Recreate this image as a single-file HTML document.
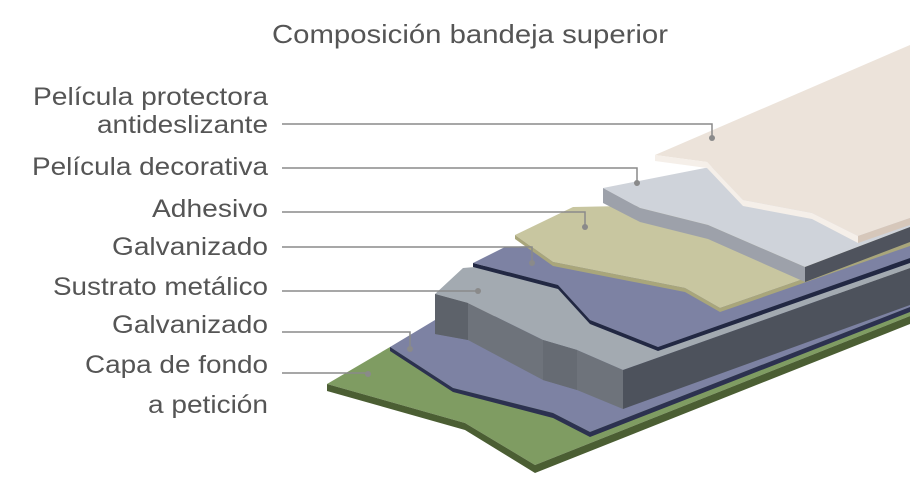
<!DOCTYPE html>
<html><head><meta charset="utf-8"><style>
html,body{margin:0;padding:0;background:#fff;width:910px;height:497px;overflow:hidden}
svg{display:block}
text{font-family:"Liberation Sans",sans-serif;fill:#555}
</style></head><body>
<svg width="910" height="497" viewBox="0 0 910 497">
<text x="272" y="43" font-size="26" textLength="396" lengthAdjust="spacingAndGlyphs">Composición bandeja superior</text>
<g font-size="25" lengthAdjust="spacingAndGlyphs">
<text x="33" y="105" textLength="235" lengthAdjust="spacingAndGlyphs">Película protectora</text>
<text x="97" y="133" textLength="171" lengthAdjust="spacingAndGlyphs">antideslizante</text>
<text x="32" y="175" textLength="236" lengthAdjust="spacingAndGlyphs">Película decorativa</text>
<text x="152" y="217" textLength="116" lengthAdjust="spacingAndGlyphs">Adhesivo</text>
<text x="112" y="255" textLength="156" lengthAdjust="spacingAndGlyphs">Galvanizado</text>
<text x="53" y="295" textLength="215" lengthAdjust="spacingAndGlyphs">Sustrato metálico</text>
<text x="112" y="333" textLength="156" lengthAdjust="spacingAndGlyphs">Galvanizado</text>
<text x="85" y="373" textLength="183" lengthAdjust="spacingAndGlyphs">Capa de fondo</text>
<text x="148" y="413" textLength="120" lengthAdjust="spacingAndGlyphs">a petición</text>
</g>
<!-- green base -->
<polygon points="327,384 390,347 910,300 910,316 535,465 465,423 327,384" fill="#7f9c62"/>
<polygon points="327,384 465,423 535,465 910,316 910,324 535,473 465,430 327,391" fill="#4b5e33"/>
<!-- lower blue -->
<polygon points="390,347 435,320 910,290 910,307 590,432 553,413 453,388 390,347" fill="#7d82a3"/>
<polygon points="390,347 453,388 553,413 590,432 910,307 910,312 590,437 553,418 453,392 390,351" fill="#2c3150"/>
<!-- grey substrate -->
<polygon points="435,294 463,268 910,230 910,268 623,370 577,350 543,340 468,303" fill="#a3aab1"/>
<polygon points="435,294 468,303 543,340 577,350 623,370 623,409 577,390 543,380 468,340 435,334" fill="#6e737b"/>
<polygon points="435,294 468,303 468,340 435,334" fill="#5d626a"/>
<polygon points="543,340 577,350 577,390 543,380" fill="#666b73"/>
<polygon points="623,370 910,268 910,305 623,409" fill="#4d525c"/>
<!-- upper blue -->
<polygon points="473,263 505,247 910,232 910,258 658,347 590,320 558,285" fill="#7d82a3"/>
<polygon points="473,263 558,285 590,320 658,347 910,258 910,263 658,351 590,324 558,289 473,267" fill="#222843"/>
<!-- adhesive -->
<polygon points="515,235 573,207 910,200 910,242 720,308 685,288 553,262" fill="#c8c6a0"/>
<polygon points="515,235 553,262 685,288 720,308 910,242 910,246 720,312 685,292 553,266 515,239" fill="#a9a67b"/>
<!-- decorative -->
<polygon points="603,188 710,167 910,160 910,227 805,267 708,225 640,208" fill="#cfd3da"/>
<polygon points="603,188 640,208 708,225 805,267 805,282 708,239 640,222 603,203" fill="#9da1aa"/>
<polygon points="805,267 910,227 910,242 805,282" fill="#4f535d"/>
<!-- protective -->
<polygon points="655,155 910,45 910,218 858,236 812,213 743,200 707,162" fill="#ece3da"/>
<polygon points="655,155 707,162 743,200 812,213 858,236 858,243 812,219 743,206 707,168 655,161" fill="#f5efe9"/>
<polygon points="858,236 910,218 910,225 858,243" fill="#d6c7ba"/>
<!-- leaders -->
<g stroke="#8a8a8a" stroke-width="1.5" fill="none">
<polyline points="282,124 712,124 712,137"/>
<polyline points="282,168 637,168 637,182"/>
<polyline points="282,212 585,212 585,226"/>
<polyline points="282,247 532,247 532,262"/>
<polyline points="282,291 478,291"/>
<polyline points="282,332 410,332 410,348"/>
<polyline points="282,373 368,373"/>
</g>
<g fill="#8a8a8a">
<circle cx="712" cy="138" r="3"/><circle cx="637" cy="183" r="3"/><circle cx="585" cy="227" r="3"/>
<circle cx="532" cy="263" r="3"/><circle cx="478" cy="291" r="3"/><circle cx="410" cy="349" r="3"/>
<circle cx="368" cy="374" r="3"/>
</g>
</svg>
</body></html>
